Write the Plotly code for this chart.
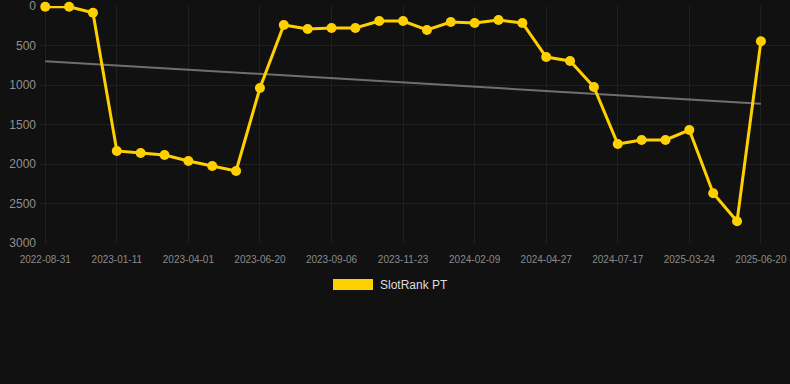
import numpy as np
import plotly.graph_objects as go

# Data
tick_labels = ["2022-08-31", "2023-01-11", "2023-04-01", "2023-06-20", "2023-09-06",
               "2023-11-23", "2024-02-09", "2024-04-27", "2024-07-17", "2025-03-24",
               "2025-06-20"]
rank_values = [9, 9, 85, 1835, 1861, 1886, 1962, 2025, 2089, 1038, 240, 291, 278, 278,
               190, 190, 304, 203, 215, 177, 215, 646, 696, 1025, 1747, 1696, 1696,
               1570, 2371, 2725, 447]
series_name = "SlotRank PT"

x_idx = list(range(len(rank_values)))
tick_vals = x_idx[::3]

slope, intercept = np.polyfit(x_idx, rank_values, 1)
trend = [slope * x + intercept for x in x_idx]

W, H = 790, 384
ml, mr, mt, mb = 40, 0, 6, 141

fig = go.Figure()
fig.add_trace(go.Scatter(x=x_idx, y=trend, mode="lines",
                         line=dict(color="#6f6f6f", width=2), hoverinfo="skip",
                         showlegend=False))
fig.add_trace(go.Scatter(x=x_idx, y=rank_values, mode="lines+markers", name=series_name,
                         line=dict(color="#FFD000", width=3),
                         marker=dict(color="#FFD000", size=10),
                         cliponaxis=False, showlegend=False))

# manual legend
plot_h = H - mt - mb
def py(pix):
    return 1 - (pix - mt) / plot_h
def px(pix):
    return (pix - ml) / (W - ml - mr)

fig.add_shape(type="rect", xref="paper", yref="paper",
              x0=px(333), x1=px(373), y0=py(290), y1=py(279),
              fillcolor="#FFD000", line=dict(width=0))
fig.add_annotation(xref="paper", yref="paper", x=px(378), y=py(285),
                   text=series_name, showarrow=False, xanchor="left", yanchor="middle",
                   font=dict(color="#dddddd", size=12, family="Arial, Liberation Sans"))

fig.update_layout(
    width=W, height=H,
    margin=dict(l=ml, r=mr, t=mt, b=mb),
    paper_bgcolor="#111111", plot_bgcolor="#111111",
    font=dict(family="Arial, Liberation Sans", color="#8a8a8a"),
    xaxis=dict(range=[-0.22, 31.22], tickvals=tick_vals, ticktext=tick_labels,
               tickfont=dict(size=10, color="#8a8a8a"), showgrid=True,
               gridcolor="#202020", zeroline=False, showline=False, ticks="",
               ticklabelstandoff=9, ticklabeloverflow="allow"),
    yaxis=dict(range=[3000, 0], tickvals=[0, 500, 1000, 1500, 2000, 2500, 3000],
               tickfont=dict(size=12, color="#909090"), showgrid=True,
               gridcolor="#202020", zeroline=False, showline=False, ticks="",
               ticklabelstandoff=3, ticklabeloverflow="allow"),
)

fig.write_html("out.html", config={"displayModeBar": False},
               post_script="document.body.style.margin='0';")
